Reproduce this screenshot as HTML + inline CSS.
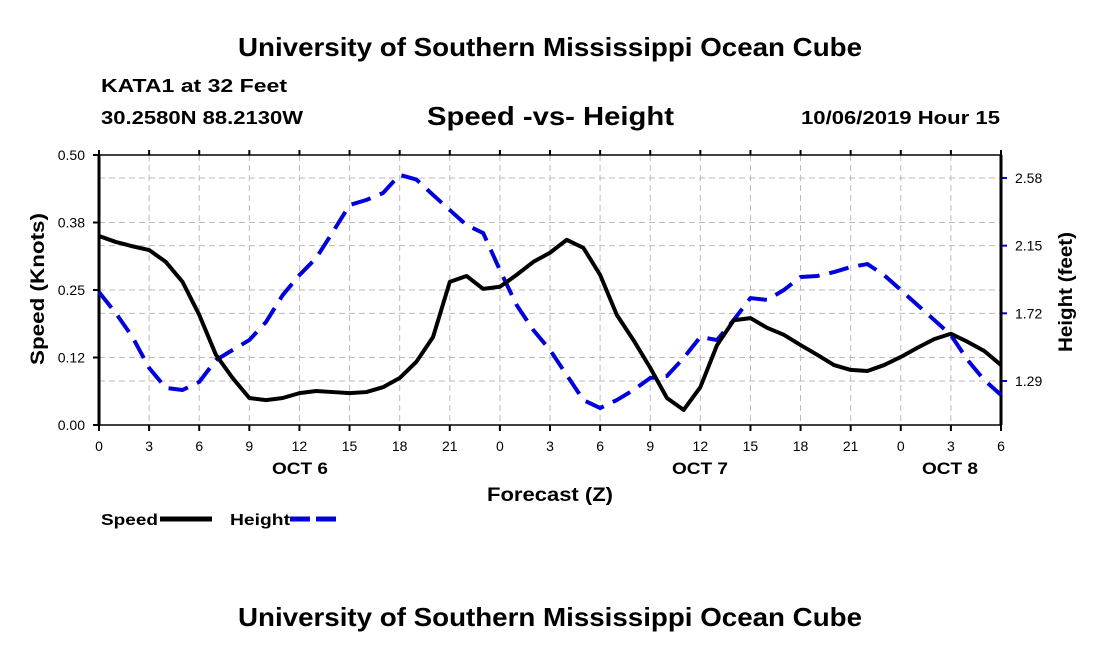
<!DOCTYPE html>
<html><head><meta charset="utf-8"><style>
body{margin:0;background:#fff;}
svg{display:block;font-family:"Liberation Sans",Arial,sans-serif;}
</style></head><body>
<svg id="chart" width="1100" height="650" viewBox="0 0 1100 650" xmlns="http://www.w3.org/2000/svg">
<text x="238" y="56" font-size="26" font-weight="bold" textLength="624" lengthAdjust="spacingAndGlyphs">University of Southern Mississippi Ocean Cube</text>
<text x="101" y="92" font-size="18" font-weight="bold" textLength="186" lengthAdjust="spacingAndGlyphs">KATA1 at 32 Feet</text>
<text x="101" y="124" font-size="18" font-weight="bold" textLength="202" lengthAdjust="spacingAndGlyphs">30.2580N 88.2130W</text>
<text x="427" y="125" font-size="26" font-weight="bold" textLength="247" lengthAdjust="spacingAndGlyphs">Speed -vs- Height</text>
<text x="801" y="124" font-size="18" font-weight="bold" textLength="199" lengthAdjust="spacingAndGlyphs">10/06/2019 Hour 15</text>
<g id="grid"></g>
<g id="axes"></g>
<g id="series"></g>
<text transform="translate(44,365) rotate(-90)" font-size="19" font-weight="bold" textLength="152" lengthAdjust="spacingAndGlyphs">Speed (Knots)</text>
<text transform="translate(1072,352) rotate(-90)" font-size="19" font-weight="bold" textLength="120" lengthAdjust="spacingAndGlyphs">Height (feet)</text>
<text x="272" y="474" font-size="17" font-weight="bold" textLength="56" lengthAdjust="spacingAndGlyphs">OCT 6</text>
<text x="672" y="474" font-size="17" font-weight="bold" textLength="56" lengthAdjust="spacingAndGlyphs">OCT 7</text>
<text x="922" y="474" font-size="17" font-weight="bold" textLength="56" lengthAdjust="spacingAndGlyphs">OCT 8</text>
<text x="487" y="501" font-size="19" font-weight="bold" textLength="126" lengthAdjust="spacingAndGlyphs">Forecast (Z)</text>
<g>
<text x="101" y="525" font-size="16" font-weight="bold" textLength="57" lengthAdjust="spacingAndGlyphs">Speed</text>
<line x1="160" y1="519" x2="212" y2="519" stroke="#000" stroke-width="5"/>
<text x="230" y="525" font-size="16" font-weight="bold" textLength="60" lengthAdjust="spacingAndGlyphs">Height</text>
<line x1="290" y1="519" x2="342" y2="519" stroke="#0000dd" stroke-width="5" stroke-dasharray="20,6"/>
</g>
<text x="238" y="626" font-size="26" font-weight="bold" textLength="624" lengthAdjust="spacingAndGlyphs">University of Southern Mississippi Ocean Cube</text>
</svg>
<script>
const hourLabels=["0","3","6","9","12","15","18","21","0","3","6","9","12","15","18","21","0","3","6"];
const speedTicks=[0,0.125,0.25,0.375,0.5];
const speedTickLabels=["0.00","0.12","0.25","0.38","0.50"];
const heightTicks=[1.29,1.72,2.15,2.58];
const heightTickLabels=["1.29","1.72","2.15","2.58"];
const speed=[0.350,0.339,0.331,0.324,0.302,0.265,0.204,0.130,0.087,0.050,0.046,0.050,0.059,0.063,0.061,0.059,0.061,0.070,0.087,0.117,0.163,0.265,0.276,0.252,0.256,0.278,0.302,0.319,0.343,0.328,0.278,0.204,0.157,0.106,0.050,0.028,0.070,0.148,0.194,0.198,0.180,0.167,0.148,0.130,0.111,0.102,0.100,0.111,0.126,0.143,0.159,0.169,0.154,0.137,0.111];
const height=[1.855,1.722,1.570,1.373,1.246,1.233,1.284,1.423,1.487,1.550,1.665,1.836,1.963,2.071,2.237,2.408,2.440,2.484,2.600,2.570,2.472,2.376,2.281,2.230,1.995,1.773,1.614,1.487,1.328,1.169,1.118,1.169,1.233,1.309,1.322,1.436,1.570,1.550,1.678,1.817,1.805,1.868,1.951,1.957,1.982,2.014,2.033,1.963,1.868,1.773,1.678,1.582,1.423,1.296,1.201];
const X0=99,X1=1001,Y0=425,Y1=155,HMAX=54;
const xS=h=>X0+(X1-X0)*h/HMAX;
const yL=v=>Y0-(Y0-Y1)*v/0.5;
const yR=v=>381-(v-1.29)*157.4;
const NS="http://www.w3.org/2000/svg";
function mk(tag,attrs,parent){const e=document.createElementNS(NS,tag);for(const k in attrs)e.setAttribute(k,attrs[k]);parent.appendChild(e);return e;}
const grid=document.getElementById('grid'),axes=document.getElementById('axes'),series=document.getElementById('series');
const gs={stroke:"#bbb","stroke-width":1,"stroke-dasharray":"6,4"};
hourLabels.forEach((l,i)=>{const x=xS(i*3);
 if(i>0&&i<hourLabels.length-1){const g=mk('line',Object.assign({x1:x,x2:x,y1:Y1,y2:Y0},gs),grid);
 
 }
 const t=mk('line',{x1:x,x2:x,y1:Y0,y2:Y0+6,stroke:"#000","stroke-width":2},axes);
 
 
 const t2=mk('line',{x1:x,x2:x,y1:Y1,y2:Y1-5,stroke:"#000","stroke-width":2},axes);
 
 
 const tx=mk('text',{x:x,y:Y0+26,"text-anchor":"middle","font-size":14},axes);tx.textContent=l;
 
 
});
speedTicks.forEach((v,i)=>{const y=yL(v);
 if(i>0&&i<speedTicks.length-1){const g=mk('line',Object.assign({x1:X0,x2:X1,y1:y,y2:y},gs),grid);
 
 }
 const t=mk('line',{x1:X0-6,x2:X0,y1:y,y2:y,stroke:"#000","stroke-width":2},axes);
 
 
 const tx=mk('text',{x:X0-14,y:y+5,"text-anchor":"end","font-size":14},axes);tx.textContent=speedTickLabels[i];
 
 
});
heightTicks.forEach((v,i)=>{const y=yR(v);
 const g=mk('line',Object.assign({x1:X0,x2:X1,y1:y,y2:y},gs),grid);
 
 
 const t=mk('line',{x1:X1,x2:X1+6,y1:y,y2:y,stroke:"#0000dd","stroke-width":2},axes);
 
 
 const tx=mk('text',{x:X1+14,y:y+5,"font-size":14},axes);tx.textContent=heightTickLabels[i];
 
 
});
const fr=mk('rect',{x:X0,y:Y1,width:X1-X0,height:Y0-Y1,fill:"none",stroke:"#000","stroke-width":1.5},axes);


const la=mk('line',{x1:X0,x2:X0,y1:Y1,y2:Y0,stroke:"#000","stroke-width":3},axes);


const ra=mk('line',{x1:X1,x2:X1,y1:Y1,y2:Y0,stroke:"#000","stroke-width":3},axes);


const hp=mk('polyline',{points:height.map((v,i)=>xS(i)+","+yR(v)).join(" "),fill:"none",stroke:"#0000dd","stroke-width":4,"stroke-dasharray":"20,10","stroke-linejoin":"round"},series);


const sp=mk('polyline',{points:speed.map((v,i)=>xS(i)+","+yL(v)).join(" "),fill:"none",stroke:"#000","stroke-width":4,"stroke-linejoin":"round"},series);


</script>
</body></html>
